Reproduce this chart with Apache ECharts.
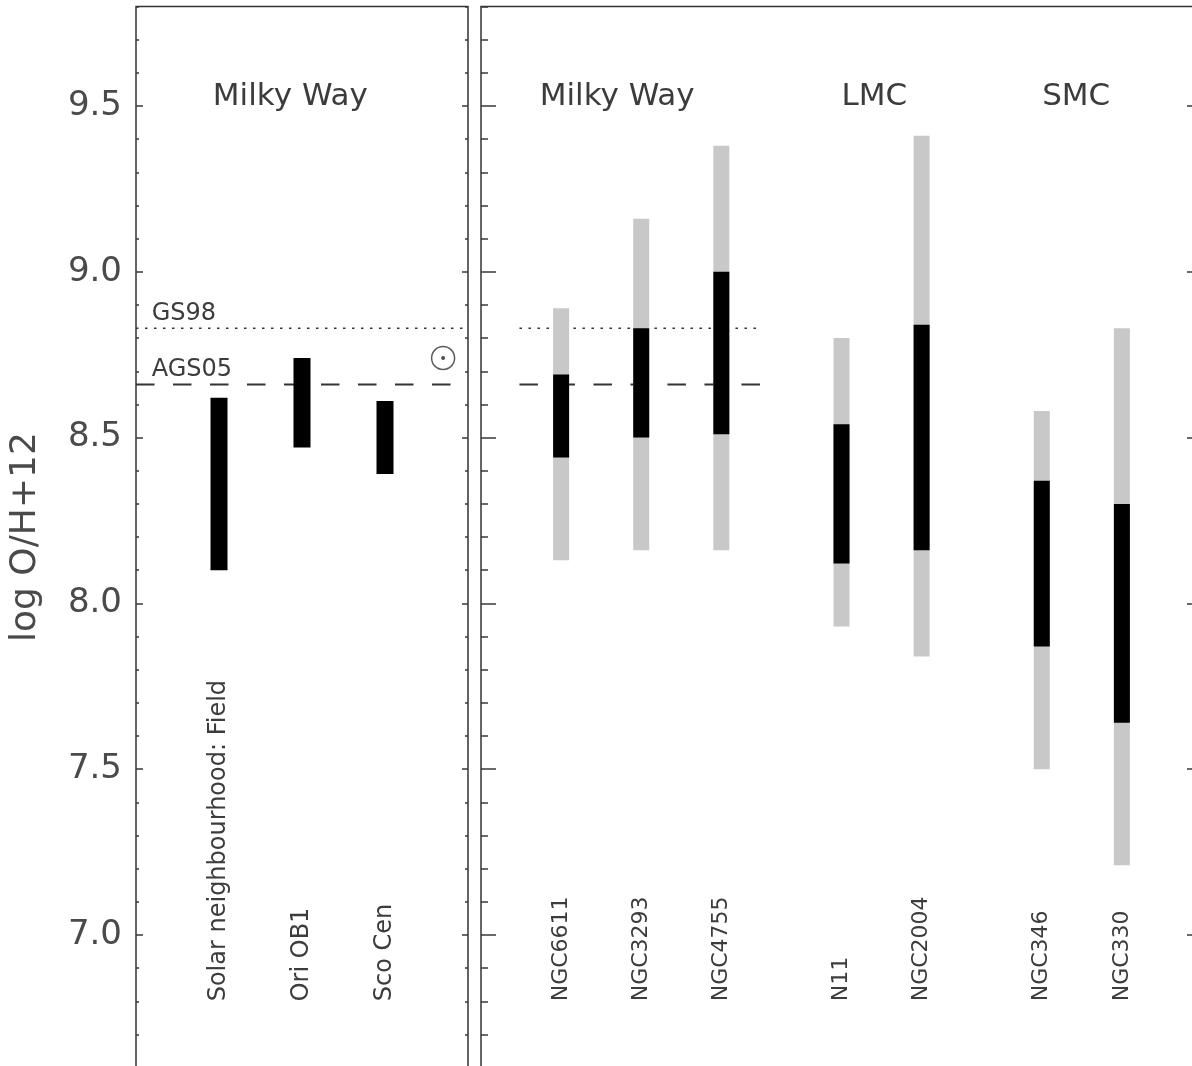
<!DOCTYPE html>
<html>
<head>
<meta charset="utf-8">
<script src="https://cdn.jsdelivr.net/npm/echarts@6/dist/echarts.min.js"></script>
<style>html,body{margin:0;padding:0;background:#fff;}#chart{width:1192px;height:1066px;}</style>
</head>
<body>
<div id="chart"></div>
<script>
// ---------- data ----------
const yMin = 6.6, yMax = 9.8;
const majorTickValues = [7.0, 7.5, 8.0, 8.5, 9.0, 9.5];
const minorInterval = 0.1;

// Left panel (Milky Way, field / associations)
const leftCategories = ['Solar neighbourhood: Field', 'Ori OB1', 'Sco Cen'];
const leftPositions = [1, 2, 3];
const leftLow = [8.10, 8.47, 8.39];
const leftHigh = [8.62, 8.74, 8.61];

// Right panel (clusters)
const rightCategories = ['NGC6611', 'NGC3293', 'NGC4755', 'N11', 'NGC2004', 'NGC346', 'NGC330'];
const rightPositions = [1, 2, 3, 4.5, 5.5, 7, 8];
const rangeLow = [8.13, 8.16, 8.16, 7.93, 7.84, 7.50, 7.21];
const rangeHigh = [8.89, 9.16, 9.38, 8.80, 9.41, 8.58, 8.83];
const coreLow = [8.44, 8.50, 8.51, 8.12, 8.16, 7.87, 7.64];
const coreHigh = [8.69, 8.83, 9.00, 8.54, 8.84, 8.37, 8.30];

// Solar reference values
const solarRefNames = ['GS98', 'AGS05'];
const solarRefValues = [8.83, 8.66];
const solarRefLabelY = [8.873, 8.705];
const sunPoint = [3.7, 8.74];

// Group titles
const leftGroupTitles = ['Milky Way'];
const leftGroupPos = [1.86];
const rightGroupTitles = ['Milky Way', 'LMC', 'SMC'];
const rightGroupPos = [1.70, 4.91, 7.43];
const groupTitleY = 9.527;
const categoryLabelY = 6.80;

// ---------- chart ----------
const FONT = '"DejaVu Sans", sans-serif';
const TXT = '#3c3c3c';
const AX = '#3a3a3a';
const pxPerUnit = 331.6;
const gridTop = 6.5;
const gridHeight = (yMax - yMin) * pxPerUnit;

function yAx(gridIndex, position, major, len, labels) {
  const a = {
    type: 'value', gridIndex: gridIndex, position: position,
    min: yMin, max: yMax,
    axisLine: { show: false },
    splitLine: { show: false },
    axisTick: { show: true, inside: true, length: len, lineStyle: { color: AX, width: 1.5 } },
    axisLabel: { show: false }
  };
  if (major) {
    a.axisTick.customValues = majorTickValues;
    a.axisLabel = labels ? {
      show: true, customValues: majorTickValues, margin: 14, padding: [6, 0, 0, 0],
      formatter: v => Number(v).toFixed(1),
      fontSize: 34, fontFamily: FONT, color: '#4a4a4a'
    } : { show: false, customValues: majorTickValues };
  } else {
    a.interval = minorInterval;
  }
  return a;
}

function rectRender(width, color) {
  return function (params, api) {
    const x = api.value(0), lo = api.value(1), hi = api.value(2);
    const top = api.coord([x, hi]);
    const bot = api.coord([x, lo]);
    return { type: 'rect', shape: { x: top[0] - width / 2, y: top[1], width: width, height: bot[1] - top[1] },
             style: { fill: color } };
  };
}

function textRender(texts, opts) {
  return function (params, api) {
    const p = api.coord([api.value(0), api.value(1)]);
    return { type: 'text', x: p[0], y: p[1], rotation: opts.rotation || 0,
             style: { text: texts[params.dataIndex], fill: TXT, fontSize: opts.size, fontFamily: FONT,
                      align: opts.align, verticalAlign: 'middle' } };
  };
}

function refLine(xi, yi, x0, x1, v, dash, w) {
  return { type: 'line', xAxisIndex: xi, yAxisIndex: yi, data: [[x0, v], [x1, v]],
           symbol: 'none', silent: true, lineStyle: { color: '#333', width: w, type: dash }, z: 1 };
}

const chart = echarts.init(document.getElementById('chart'), null, { renderer: 'canvas' });

const option = {
  animation: false,
  backgroundColor: '#fff',
  grid: [
    { left: 136, top: gridTop, width: 332, height: gridHeight, show: true, borderColor: '#333', borderWidth: 1.5, backgroundColor: 'transparent', outerBoundsMode: 'none', containLabel: false },
    { left: 481, top: gridTop, width: 721, height: gridHeight, show: true, borderColor: '#333', borderWidth: 1.5, backgroundColor: 'transparent', outerBoundsMode: 'none', containLabel: false }
  ],
  xAxis: [
    { type: 'value', gridIndex: 0, min: 0, max: 4, show: false },
    { type: 'value', gridIndex: 1, min: 0, max: 9, show: false }
  ],
  yAxis: [
    Object.assign(yAx(0, 'left', true, 7, true), {
      name: 'log O/H+12', nameLocation: 'middle', nameGap: 92, nameRotate: 90,
      nameTextStyle: { fontSize: 36, fontFamily: FONT, color: '#4a4a4a' }
    }),
    yAx(0, 'left', false, 3, false),
    yAx(0, 'right', true, 6, false),
    yAx(0, 'right', false, 3, false),
    yAx(1, 'left', true, 15, false),
    yAx(1, 'left', false, 7, false),
    yAx(1, 'right', true, 15, false),
    yAx(1, 'right', false, 7, false)
  ],
  series: [
    // reference lines
    refLine(0, 0, 0, 4, solarRefValues[0], [2.5, 6.5], 1.5),
    refLine(0, 0, 0, 4, solarRefValues[1], [18.5, 18.5], 2),
    refLine(1, 4, 0.48, 3.5, solarRefValues[0], [2.5, 6.5], 1.5),
    refLine(1, 4, 0.48, 3.5, solarRefValues[1], [18.5, 18.5], 2),
    // left bars
    { type: 'custom', xAxisIndex: 0, yAxisIndex: 0, renderItem: rectRender(17, '#000'),
      data: leftPositions.map((p, i) => [p, leftLow[i], leftHigh[i]]), encode: { x: 0, y: [1, 2] }, z: 3 },
    // right bars: full range (grey) then core (black)
    { type: 'custom', xAxisIndex: 1, yAxisIndex: 4, renderItem: rectRender(16, '#c8c8c8'),
      data: rightPositions.map((p, i) => [p, rangeLow[i], rangeHigh[i]]), encode: { x: 0, y: [1, 2] }, z: 3 },
    { type: 'custom', xAxisIndex: 1, yAxisIndex: 4, renderItem: rectRender(16, '#000'),
      data: rightPositions.map((p, i) => [p, coreLow[i], coreHigh[i]]), encode: { x: 0, y: [1, 2] }, z: 4 },
    // sun symbol
    { type: 'scatter', xAxisIndex: 0, yAxisIndex: 0, data: [sunPoint], symbol: 'circle', symbolSize: 23, silent: true,
      itemStyle: { color: '#fff', borderColor: '#333', borderWidth: 1.5 }, z: 5 },
    { type: 'scatter', xAxisIndex: 0, yAxisIndex: 0, data: [sunPoint], symbol: 'circle', symbolSize: 4, silent: true,
      itemStyle: { color: '#222' }, z: 6 },
    // solar reference labels
    { type: 'custom', xAxisIndex: 0, yAxisIndex: 0, renderItem: textRender(solarRefNames, { size: 24, align: 'left' }),
      data: solarRefNames.map((n, i) => [0.19, solarRefLabelY[i]]), z: 6 },
    // group titles
    { type: 'custom', xAxisIndex: 0, yAxisIndex: 0, renderItem: textRender(leftGroupTitles, { size: 31, align: 'center' }),
      data: leftGroupPos.map(p => [p, groupTitleY]), z: 6 },
    { type: 'custom', xAxisIndex: 1, yAxisIndex: 4, renderItem: textRender(rightGroupTitles, { size: 31, align: 'center' }),
      data: rightGroupPos.map(p => [p, groupTitleY]), z: 6 },
    // category labels (vertical)
    { type: 'custom', xAxisIndex: 0, yAxisIndex: 0, renderItem: textRender(leftCategories, { size: 24, align: 'left', rotation: Math.PI / 2 }),
      data: leftPositions.map(p => [p, categoryLabelY]), z: 6 },
    { type: 'custom', xAxisIndex: 1, yAxisIndex: 4, renderItem: textRender(rightCategories, { size: 22, align: 'left', rotation: Math.PI / 2 }),
      data: rightPositions.map(p => [p, categoryLabelY]), z: 6 }
  ]
};
chart.setOption(option);
</script>
</body>
</html>
